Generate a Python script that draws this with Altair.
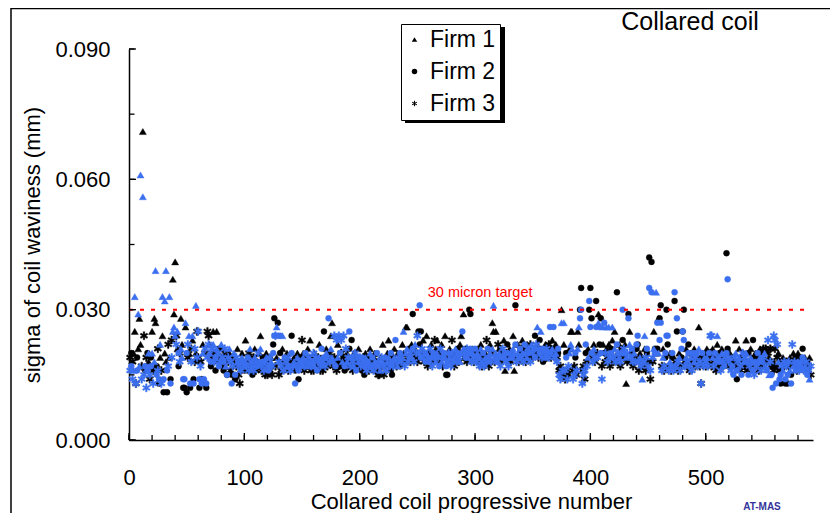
import altair as alt
import pandas as pd

# ---------------- data (values in microns) ----------------
firms = ["Firm 1", "Firm 2", "Firm 3"]

firm_001 = [3,2,3,1,1,3,2,1,1,1, 3,1,3,2,3,2,1,3,2,1, 3,1,1,2,3,2,1,3,1,2, 1,1,2,3,1,2,3,1,1,1,
            3,1,2,3,1,1,2,2,1,2, 3,1,2,3,1,2,3,1,3,3, 2,3,2,1,2,3,2,3,3,1, 2,3,1,3,2,1,3,2,3,1,
            3,2,3,1,2,3,1,3,2,3, 1,2,3,1,3,3,3,1,3,2]
black_001 = [19,20,18,20,25,13,19,21,28,22, 17,71,24,16,19,20,18,14,19,25, 16,28,27,17,21,13,19,16,24,11,
             20,18,11,22,19,14,23,37,29,41, 24,21,17,20,28,22,12,12,26,11, 19,20,12,21,23,14,18,20,25,19,
             12,18,14,22,13,20,12,25,24,22, 17,19,25,20,16,25,18,21,19,21, 17,16,20,19,15,18,20,16,15,19,
             18,14,17,21,15,13,18,20,17,16]
blue_001 = [16,17,14,16,33,13,16,29,17,61, 14,56,15,17,12,16,20,15,17,20, 13,18,39,15,16,14,22,13,33,14,
            32,39,16,17,33,13,19,25,26,24, 22,25,20,18,21,19,14,14,27,20, 22,24,13,18,24,13,21,31,19,25,
            14,17,13,20,14,21,13,19,22,20, 18,21,22,18,19,21,20,17,18,22, 19,18,21,17,15,19,21,18,13,17,
            20,15,19,18,17,18,16,19,18,17]

firm_101 = [1,3,2,3,1,3,2,3,1,3, 2,3,1,1,3,2,3,3,1,3, 2,3,1,3,2,2,3,1,2,3, 2,3,1,3,2,3,1,3,2,3,
            2,3,1,2,3,1,2,3,2,3, 1,3,2,3,1,3,1,3,2,3, 1,3,2,3,1,3,2,3,2,3, 1,3,2,3,1,1,3,3,2,3,
            1,3,2,3,1,3,2,3,1,3, 2,3,2,3,1,3,2,3,1,3]
black_101 = [23,18,16,20,19,17,15,19,21,16, 18,17,20,24,16,19,17,15,20,15, 18,16,19,15,22,28,17,19,27,15,
             20,16,21,18,17,19,20,16,18,17, 24,18,19,16,18,20,14,17,19,23, 20,16,18,19,21,17,23,16,19,16,
             20,18,17,19,22,16,18,16,25,18, 21,17,19,20,24,27,17,19,18,16, 22,18,17,20,19,18,16,19,20,17,
             21,18,23,16,20,19,17,18,21,17]
blue_101 = [18,17,19,16,21,18,17,16,19,18, 17,20,18,21,17,18,16,18,19,17, 16,19,18,17,20,24,24,26,24,18,
            24,17,24,16,19,18,17,19,17,16, 20,17,18,13,17,19,16,18,17,18, 19,17,20,18,17,19,18,17,18,20,
            17,19,16,18,19,17,21,18,19,17, 20,19,28,18,21,19,18,24,17,23, 19,24,20,23,18,24,17,21,18,19,
            25,17,19,18,17,20,16,19,18,19]

firm_201 = [3,2,3,2,1,3,2,3,1,3, 2,3,1,3,2,3,3,1,3,1, 3,2,3,1,1,3,2,2,3,1, 2,3,1,3,2,3,1,1,3,1,
            1,3,2,3,1,2,3,1,3,3, 2,2,2,3,1,3,2,1,3,2, 3,1,3,2,3,1,1,3,2,3, 1,3,2,1,2,2,3,1,3,3,
            2,3,1,3,2,3,1,1,2,1, 3,2,3,1,2,2,3,1,3,2]
black_201 = [18,16,19,15,20,17,19,16,21,18, 17,19,20,16,18,15,15,19,17,22, 15,18,17,20,23,18,16,15,19,21,
             18,17,20,18,17,19,22,20,18,26, 26,19,21,18,22,29,20,21,19,18, 25,22,25,20,23,18,19,24,17,20,
             19,22,18,19,23,21,23,18,20,19, 22,17,19,24,15,15,19,21,18,23, 19,17,20,19,21,18,22,24,20,29,
             19,21,18,20,30,29,19,21,18,20]
blue_201 = [17,19,18,17,19,16,18,17,20,17, 19,16,18,17,20,18,17,16,19,18, 17,19,16,18,19,17,20,18,17,19,
            23,18,17,19,20,18,19,25,17,20, 21,18,19,20,19,21,18,22,20,24, 20,31,19,21,19,20,18,20,19,18,
            21,19,17,20,19,18,20,19,17,21, 18,19,20,19,17,18,20,19,17,20, 18,19,21,18,20,19,18,20,25,21,
            20,19,21,19,20,21,18,20,19,21]

firm_301 = [3,1,2,3,1,3,2,3,1,3, 2,3,1,3,1,1,3,1,2,3, 1,3,2,3,1,1,3,2,3,1, 3,2,1,1,2,3,1,3,2,3,
            1,3,2,3,1,3,2,3,1,3, 2,2,3,1,3,2,1,3,2,3, 1,3,2,3,2,3,1,2,3,1, 3,2,3,3,1,3,1,3,2,3,
            3,1,1,1,3,3,2,3,1,1, 2,2,3,3,3,2,3,1,2,2]
black_301 = [19,21,18,20,22,17,19,18,20,23, 19,17,22,20,27,25,18,25,19,22, 21,18,20,19,23,16,20,22,19,21,
             18,20,24,16,31,19,22,18,20,21, 23,19,21,18,22,20,19,22,21,19, 20,24,20,22,19,23,21,20,18,21,
             22,19,20,22,21,19,23,20,21,22, 19,20,16,17,30,15,22,14,20,16, 15,21,25,25,16,17,19,15,25,22,
             30,35,16,17,14,20,18,21,30,35]
blue_301 = [18,20,19,17,21,18,20,17,19,18, 21,19,20,18,21,31,19,20,18,19, 20,17,19,21,20,19,18,20,17,19,
            20,19,21,20,22,18,20,19,21,19, 20,18,22,20,19,21,20,18,22,20, 21,19,22,26,21,20,25,19,21,20,
            19,21,20,19,26,20,21,26,19,20, 18,21,15,14,27,16,27,16,19,14, 17,20,22,21,14,15,20,16,21,26,
            28,30,13,15,16,22,17,19,32,26]

firm_401 = [2,3,1,3,2,3,1,2,2,3, 1,2,3,1,3,1,3,2,1,3, 1,3,2,3,1,3,2,2,3,1, 1,3,2,1,3,2,3,1,3,2,
            2,3,1,3,1,3,1,3,2,3, 2,3,2,3,1,2,1,2,1,2, 2,3,1,3,2,2,2,3,1,3, 2,3,2,3,2,3,1,3,2,2,
            2,3,1,3,2,3,1,3,2,1, 3,2,3,1,3,3,2,3,1,3]
black_401 = [28,19,22,18,32,20,29,22,28,17, 22,20,18,21,19,22,17,21,23,18, 25,19,34,18,22,17,21,23,19,22,
             13,18,29,25,18,20,17,21,19,21, 22,16,20,18,19,17,21,16,20,18, 42,14,41,18,25,21,20,21,28,28,
             31,17,21,16,19,30,22,17,20,16, 19,17,32,18,25,16,20,17,19,25, 30,18,21,17,22,16,20,18,19,21,
             17,18,19,26,17,13,19,18,20,17]
blue_401 = [20,18,21,19,26,19,27,26,20,14, 26,27,20,26,18,26,19,20,26,19, 21,18,22,20,19,18,20,30,21,20,
            19,20,28,22,19,21,18,20,18,22, 24,18,19,17,14,18,24,19,21,17, 35,16,34,19,21,20,34,27,20,23,
            27,16,19,17,20,24,24,16,18,17, 20,16,34,17,28,18,19,16,21,25, 23,17,19,18,20,17,19,16,20,18,
            19,20,17,21,18,13,20,17,19,18]

firm_501 = [1,3,2,3,3,1,3,2,3,1, 3,2,3,1,3,2,3,2,2,3, 1,3,2,2,3,1,2,3,1,3, 2,3,1,3,1,3,2,3,1,3,
            2,3,1,3,2,3,1,3,2,3, 1,3,2,3,1,3,2,2,3,3, 2,3,1,2,2,3,1,3,2,3, 2,3,1,2,3,1,3,2,3,1,
            3,2,3,2,3,1,3,2,3,1, 3]
black_501 = [21,18,19,20,17,21,18,19,16,22, 17,20,18,21,17,19,18,43,21,17, 20,18,19,17,18,23,14,17,21,16,
             19,18,20,17,23,16,20,18,21,17, 23,19,20,18,19,16,21,17,20,21, 19,21,18,20,19,21,17,18,16,21,
             17,19,20,16,13,18,19,17,13,18, 13,17,19,15,18,20,17,19,16,20, 18,19,17,21,18,19,16,18,17,19,
             15]
blue_501 = [19,17,20,24,24,19,17,20,18,24, 19,18,16,20,18,17,19,20,37,18, 19,16,17,15,19,20,16,18,19,17,
            15,20,18,19,20,18,15,17,19,18, 16,15,18,17,20,18,19,16,18,19, 20,17,16,23,15,18,15,12,24,23,
            13,22,18,14,15,17,16,18,14,17, 15,18,16,13,22,17,18,16,17,18, 16,17,18,19,16,17,18,15,16,14,
            17]

segments = [(1, firm_001, black_001, blue_001), (101, firm_101, black_101, blue_101),
            (201, firm_201, black_201, blue_201), (301, firm_301, black_301, blue_301),
            (401, firm_401, black_401, blue_401), (501, firm_501, black_501, blue_501)]

rows = []
for series_idx, series in enumerate(["black", "blue"]):
    for start, fl, bl, ul in segments:
        vals = bl if series_idx == 0 else ul
        for i, (f, v) in enumerate(zip(fl, vals)):
            rows.append({"coil": start + i, "firm": firms[f - 1],
                         "sigma": v / 1000.0, "series": series})
df = pd.DataFrame(rows)

x_ticks_minor = [0, 20, 40, 60, 80, 100, 120, 140, 160, 180, 200, 220, 240, 260, 280, 300,
                 320, 340, 360, 380, 400, 420, 440, 460, 480, 500, 520, 540, 560, 580]
x_ticks_major = [0, 100, 200, 300, 400, 500]
y_ticks_minor = [0.0, 0.015, 0.03, 0.045, 0.06, 0.075, 0.09]
y_ticks_major = [0.0, 0.03, 0.06, 0.09]

target_df = pd.DataFrame({"target": [0.030], "x0": [0], "x1": [589]})

# ---------------- chart ----------------
FONT = "Liberation Sans"
W, H = 684, 391
# filled six-armed asterisk (three thin bars), so it shows with fill only
ASTERISK = ("M-0.2,-1L0.2,-1L0.2,1L-0.2,1Z"
            "M-0.766,-0.673L0.966,0.327L0.766,0.673L-0.966,-0.327Z"
            "M-0.966,0.327L0.766,-0.673L0.966,-0.327L-0.766,0.673Z")
BLUE = "#3B6FF0"
MARKER = {"Firm 1": (50, 0.4), "Firm 2": (36, 0.4), "Firm 3": (64, 0.4)}

xscale = alt.Scale(domain=[0, 593], nice=False, zero=False)
yscale = alt.Scale(domain=[0, 0.09], nice=False)
shape_scale = alt.Scale(domain=firms, range=["triangle-up", "circle", ASTERISK])

xaxis = alt.Axis(values=x_ticks_major, ticks=False, tickSize=0, grid=False, labelFontSize=22,
                 labelFont=FONT, labelColor="black", labelPadding=27, labelFlush=False,
                 domainColor="black", domainWidth=1.5, title="Collared coil progressive number",
                 titleFont=FONT, titleFontSize=22, titleFontWeight="normal", titleColor="black",
                 titleY=61, titleBaseline="middle")
yaxis = alt.Axis(values=y_ticks_major, format=".3f", ticks=False, tickSize=0, grid=False,
                 labelFontSize=22, labelFont=FONT, labelColor="black", labelPadding=19,
                 labelFlush=False, domainColor="black", domainWidth=1.5,
                 title="sigma of coil waviness (mm)", titleFont=FONT, titleFontSize=22,
                 titleFontWeight="normal", titleColor="black", titleX=-97, titleY=H / 2,
                 titleAngle=-90, titleAlign="center", titleBaseline="middle")

legend = alt.Legend(orient="none", legendX=272, legendY=-25, title=None,
                    symbolFillColor="black", symbolStrokeColor="black")

frame = alt.Chart(pd.DataFrame({"a": [0]})).mark_rect(
    filled=False, stroke="black", strokeWidth=1.5).encode(
    x=alt.value(-118), x2=alt.value(720), y=alt.value(-40.5), y2=alt.value(600))

legend_shadow = alt.Chart(pd.DataFrame({"a": [0]})).mark_rect(
    color="black").encode(
    x=alt.value(276), x2=alt.value(376), y=alt.value(-22), y2=alt.value(74))

point_layers = []
for series, col in [("black", "black"), ("blue", BLUE)]:
    for firm in firms:
        size, sw = MARKER[firm]
        layer = alt.Chart(df).transform_filter(
            (alt.datum.series == series) & (alt.datum.firm == firm)
        ).mark_point(filled=True, color=col, stroke=col, opacity=1, size=size,
                     strokeWidth=sw).encode(
            x=alt.X("coil:Q", scale=xscale, axis=xaxis),
            y=alt.Y("sigma:Q", scale=yscale, axis=yaxis),
            shape=alt.Shape("firm:N", scale=shape_scale, legend=legend))
        point_layers.append(layer)

target_line = alt.Chart(target_df).mark_rule(color="red", strokeDash=[4, 7], strokeWidth=2).encode(
    x="x0:Q", x2="x1:Q", y="target:Q")

target_text = alt.Chart(pd.DataFrame({"label": ["30 micron target"]})).mark_text(
    align="left", baseline="middle", color="red", fontSize=14.5, font=FONT).encode(
    x=alt.datum(259), y=alt.datum(0.0339), text="label:N")

xt_minor = alt.Chart(pd.DataFrame({"t": x_ticks_minor})).mark_rule(
    color="black", strokeWidth=1.3).encode(x="t:Q", y=alt.value(H), y2=alt.value(H - 5))
xt_major = alt.Chart(pd.DataFrame({"t": x_ticks_major})).mark_rule(
    color="black", strokeWidth=1.3).encode(x="t:Q", y=alt.value(H), y2=alt.value(H - 7))
yt_minor = alt.Chart(pd.DataFrame({"t": y_ticks_minor})).mark_rule(
    color="black", strokeWidth=1.3).encode(y="t:Q", x=alt.value(0), x2=alt.value(5.5))
yt_major = alt.Chart(pd.DataFrame({"t": y_ticks_major})).mark_rule(
    color="black", strokeWidth=1.3).encode(y="t:Q", x=alt.value(0), x2=alt.value(7))

title_text = alt.Chart(pd.DataFrame({"label": ["Collared coil"]})).mark_text(
    align="center", baseline="middle", fontSize=25, font=FONT, color="black").encode(
    x=alt.value(561), y=alt.value(-27), text="label:N")

credit_text = alt.Chart(pd.DataFrame({"label": ["AT-MAS"]})).mark_text(
    align="center", baseline="middle", fontSize=10, font=FONT, fontWeight="bold",
    color="#333399").encode(x=alt.value(633), y=alt.value(458), text="label:N")

chart = alt.layer(frame, legend_shadow, *point_layers, target_line, target_text,
                  xt_minor, xt_major, yt_minor, yt_major, title_text, credit_text).properties(
    width=W, height=H,
    autosize=alt.AutoSizeParams(type="none"),
    padding={"left": 121, "top": 41, "right": 17, "bottom": 73},
    background="white",
).configure_view(stroke=None).configure_legend(
    labelFontSize=23, labelFont=FONT, labelColor="black", symbolSize=30,
    symbolStrokeWidth=0.5, padding=4, rowPadding=8, labelOffset=4, symbolOffset=-2,
    strokeColor="black", fillColor="white")

chart.save("out.html", embed_options={"renderer": "svg", "actions": False})
